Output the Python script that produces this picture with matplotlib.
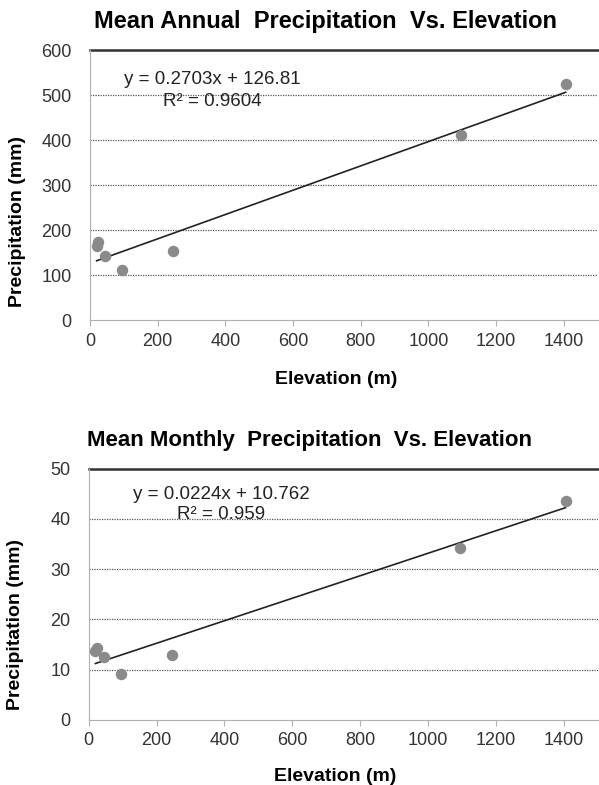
import matplotlib.pyplot as plt

plt.rcParams['font.family'] = ['Liberation Sans', 'DejaVu Sans']

# elevation (m) of the stations
elevation = [20, 25, 45, 95, 245, 1095, 1405]
# mean annual / monthly precipitation (mm)
annual = [165, 175, 142, 112, 155, 412, 525]
monthly = [13.8, 14.3, 12.5, 9.2, 13.0, 34.2, 43.5]

# linear trend lines as printed on the chart
annual_fit = (0.2703, 126.81, 0.9604)
monthly_fit = (0.0224, 10.762, 0.959)

fig = plt.figure(figsize=(5.99, 7.85), dpi=100)
ax1 = fig.add_axes([0.150, 0.592, 0.848, 0.344])
ax2 = fig.add_axes([0.148, 0.083, 0.850, 0.320])


def draw(ax, y, fit, ymax, ystep, title, eq, r2, eq_pos, r2_pos, title_x,
         title_size, ylab_y, xlab_y):
    slope, icpt, r = fit
    ax.scatter(elevation, y, s=68, color='#8a8a8a', zorder=3, linewidths=0)
    xs = [min(elevation), max(elevation)]
    ax.plot(xs, [slope * x + icpt for x in xs], color='#222222', lw=1.2, zorder=2)
    ax.set_xlim(0, 1500)
    ax.set_ylim(0, ymax)
    ax.set_xticks(range(0, 1401, 200))
    ax.set_yticks(range(0, ymax + 1, ystep))
    for v in range(ystep, ymax, ystep):
        ax.axhline(v, color='#555555', lw=0.9, ls=(0, (1, 1)), zorder=1)
    ax.axhline(ymax, color='#333333', lw=1.8, zorder=1, clip_on=False)
    for s in ['top', 'right']:
        ax.spines[s].set_visible(False)
    for s in ['left', 'bottom']:
        ax.spines[s].set_color('#b0b0b0')
    ax.tick_params(axis='y', length=0, labelsize=13, labelcolor='#333333', pad=13)
    ax.tick_params(axis='x', length=4, color='#b0b0b0', labelsize=13,
                   labelcolor='#333333', pad=5)
    ax.set_xlabel('Elevation (m)', fontsize=14, fontweight='bold', va='center')
    ax.xaxis.set_label_coords(0.485, xlab_y)
    ax.set_ylabel('Precipitation (mm)', fontsize=14, fontweight='bold')
    ax.yaxis.set_label_coords(-0.126, ylab_y)
    ax.set_title(title, fontsize=title_size, fontweight='bold', x=title_x, pad=16)
    ax.text(eq_pos[0], eq_pos[1], eq, fontsize=13.5, color='#222222',
            transform=ax.transAxes, ha='center', va='center')
    ax.text(r2_pos[0], r2_pos[1], r2, fontsize=13.5, color='#222222',
            transform=ax.transAxes, ha='center', va='center')


draw(ax1, annual, annual_fit, 600, 100,
     'Mean Annual  Precipitation  Vs. Elevation',
     'y = 0.2703x + 126.81', 'R² = 0.9604',
     (0.242, 0.893), (0.242, 0.812), 0.463, 17, 0.365, -0.221)
draw(ax2, monthly, monthly_fit, 50, 10,
     'Mean Monthly  Precipitation  Vs. Elevation',
     'y = 0.0224x + 10.762', 'R² = 0.959',
     (0.261, 0.896), (0.261, 0.817), 0.434, 16, 0.38, -0.227)

fig.savefig('out.png', dpi=100)
